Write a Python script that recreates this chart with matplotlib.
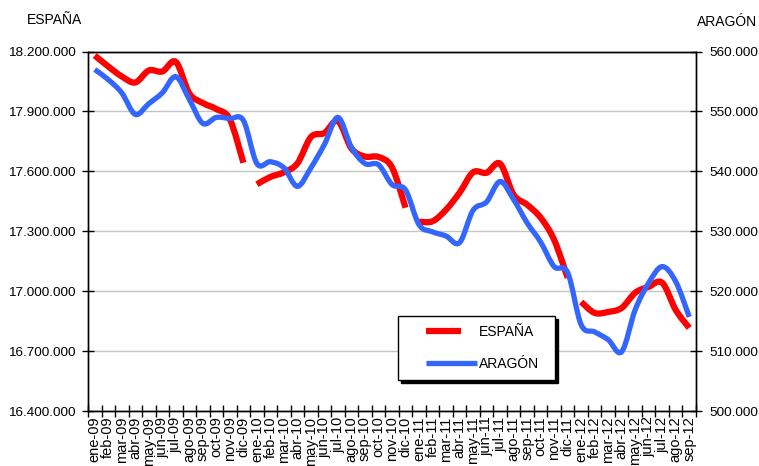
#Afiliados a la Seguridad Social: España (eje izq.) y Aragón (eje der.)
#ene-09 a sep-12, lineas suavizadas como en la hoja original.
import matplotlib
matplotlib.use("Agg")
import matplotlib.pyplot as plt
import numpy as np
from matplotlib.path import Path
from matplotlib.patches import PathPatch
from matplotlib.lines import Line2D
from matplotlib.legend_handler import HandlerLine2D

plt.rcParams['font.family'] = ['Liberation Sans', 'DejaVu Sans']

#Datos
meses = ['ene', 'feb', 'mar', 'abr', 'may', 'jun', 'jul', 'ago', 'sep', 'oct', 'nov', 'dic']
labels = [m + '-' + a for a in ['09', '10', '11'] for m in meses] + [m + '-12' for m in meses[:9]]

# España, un tramo por año (la linea se corta en cada cambio de año)
espana_09 = [18180000, 18125000, 18075000, 18045000, 18105000, 18100000,
             18148000, 17990000, 17942000, 17912000, 17860000, 17643000]
espana_10 = [17535000, 17572000, 17595000, 17640000, 17772000, 17792000,
             17852000, 17714000, 17674000, 17672000, 17620000, 17418000]
espana_11 = [17348000, 17350000, 17408000, 17493000, 17595000, 17593000,
             17638000, 17483000, 17433000, 17368000, 17257000, 17067000]
espana_12 = [16946000, 16891000, 16896000, 16916000, 16992000, 17022000,
             17042000, 16906000, 16816000]

aragon = [557000, 555300, 553100, 549500, 551300, 553100, 555800, 552000, 548000, 549000, 548800, 548500,
          541300, 541600, 540600, 537500, 540600, 544500, 549000, 544000, 541300, 541100, 537800, 536900,
          531100, 529900, 529200, 528100, 533500, 534900, 538300, 535300, 531400, 528200, 524100, 523100,
          514400, 513200, 511900, 509900, 516900, 521400, 524100, 521600, 515700]

ROJO = '#FF0000'
AZUL = '#3366FF'

def smooth(x, y):
    # curva de Bezier que pasa por los puntos (suavizado tipo Excel)
    n = len(x)
    verts = [(x[0], y[0])]
    codes = [Path.MOVETO]
    for i in range(n - 1):
        a = max(i - 1, 0)
        b = min(i + 2, n - 1)
        c1 = (x[i] + (x[i + 1] - x[a]) / 6., y[i] + (y[i + 1] - y[a]) / 6.)
        c2 = (x[i + 1] - (x[b] - x[i]) / 6., y[i + 1] - (y[b] - y[i]) / 6.)
        verts += [c1, c2, (x[i + 1], y[i + 1])]
        codes += [Path.CURVE4] * 3
    return Path(verts, codes)

def miles(v, pos=None):
    return '{:,.0f}'.format(v).replace(',', '.')

class HandlerPad(HandlerLine2D):
    # deja hueco a la izquierda de la muestra de la leyenda
    def create_artists(self, legend, orig_handle, xdescent, ydescent, width, height, fontsize, trans):
        shift = 0.27 * width
        return super().create_artists(legend, orig_handle, xdescent - shift, ydescent,
                                      width - shift, height, fontsize, trans)

fig = plt.figure(figsize=(7.59, 4.66), dpi=100)
ax = fig.add_axes([88 / 759., 55 / 466., 608 / 759., 359.5 / 466.])
ax2 = ax.twinx()

#España
start = 0
for tramo in [espana_09, espana_10, espana_11, espana_12]:
    xs = np.arange(start, start + len(tramo))
    ax.add_patch(PathPatch(smooth(xs, np.array(tramo, float)), fill=False,
                           edgecolor=ROJO, linewidth=4.5, capstyle='butt', zorder=3))
    start += len(tramo)

#Aragón
xa = np.arange(len(aragon))
ax2.add_patch(PathPatch(smooth(xa, np.array(aragon, float)), fill=False,
                        edgecolor=AZUL, linewidth=3.8, capstyle='butt', zorder=3))

ax.set_xlim(-0.5, len(labels) - 0.5)
ax.set_ylim(16400000, 18200000)
ax2.set_ylim(500000, 560000)
ax.set_yticks(np.arange(16400000, 18200001, 300000))
ax2.set_yticks(np.arange(500000, 560001, 10000))
ax.yaxis.set_major_formatter(plt.FuncFormatter(miles))
ax2.yaxis.set_major_formatter(plt.FuncFormatter(miles))

# marcas entre categorias, etiquetas en el centro
ax.set_xticks(np.arange(-0.5, len(labels), 1.0))
ax.set_xticklabels([])
ax.set_xticks(np.arange(len(labels)), minor=True)
ax.set_xticklabels(labels, minor=True, rotation=90, fontsize=10.5, va='top', ha='center')
ax.tick_params(axis='x', which='minor', length=0, pad=4)
ax.tick_params(axis='x', which='major', direction='inout', length=8, width=1)
ax.tick_params(axis='y', direction='inout', length=8, width=1, labelsize=9.7, pad=5)
ax2.tick_params(axis='y', direction='inout', length=8, width=1, labelsize=9.7, pad=6)

ax.grid(axis='y', color='#C4C4C4', linewidth=1)
ax.set_axisbelow(True)
for a in (ax, ax2):
    for s in a.spines.values():
        s.set_color('black')
        s.set_linewidth(1)

fig.text(54 / 759., 1 - 20 / 466., 'ESPAÑA', ha='center', va='center', fontsize=10)
fig.text(727 / 759., 1 - 22 / 466., 'ARAGÓN', ha='center', va='center', fontsize=10)

#Leyenda
h_esp = Line2D([], [], color=ROJO, linewidth=4.5, dashes=(5.6, 3.0))
h_ara = Line2D([], [], color=AZUL, linewidth=3.8, solid_capstyle='butt')
leg = ax2.legend([h_esp, h_ara], ['ESPAÑA', 'ARAGÓN'], loc='center',
                 bbox_to_anchor=(0.51, 0.081, 0.258, 0.189), mode='expand', borderaxespad=0,
                 fontsize=10, handlelength=5.0, handletextpad=0.15, labelspacing=1.3,
                 borderpad=0.65, fancybox=False, edgecolor='black', framealpha=1,
                 shadow={'color': 'black', 'alpha': 1},
                 handler_map={Line2D: HandlerPad()})
leg.get_frame().set_linewidth(1)

plt.savefig('out.png', dpi=100)
